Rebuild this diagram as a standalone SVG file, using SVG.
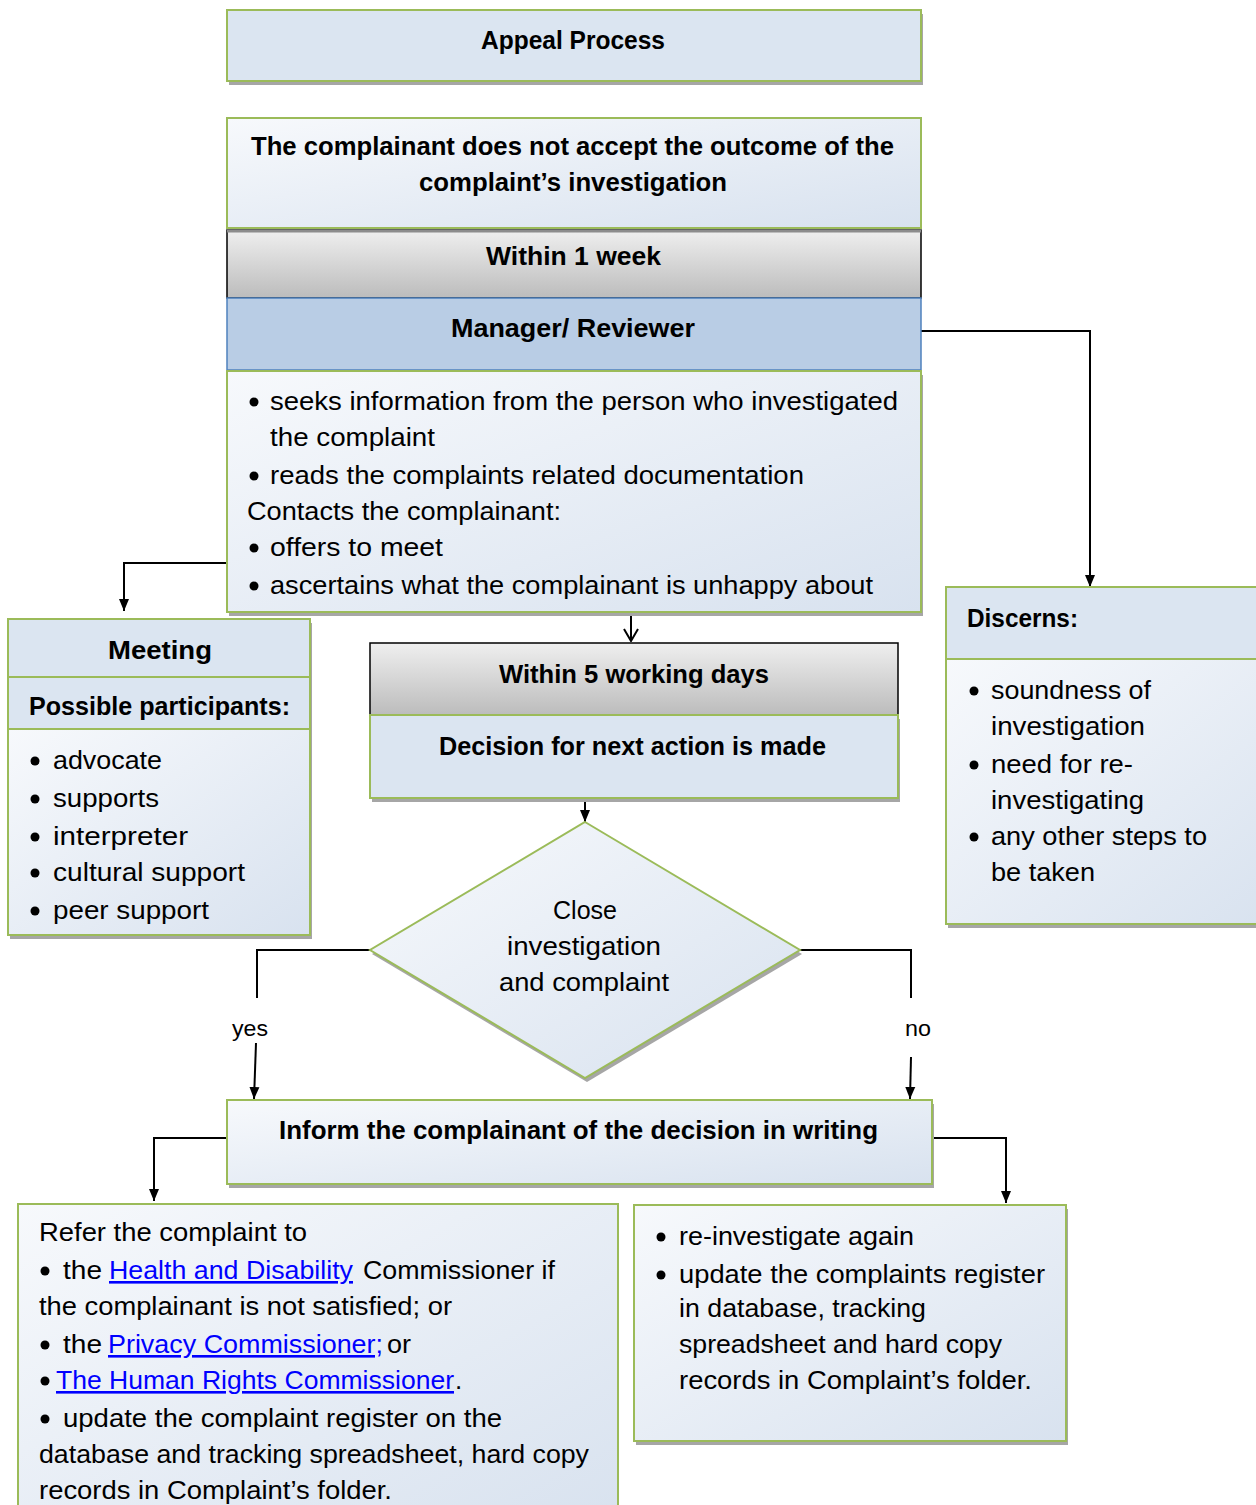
<svg xmlns="http://www.w3.org/2000/svg" width="1256" height="1505" viewBox="0 0 1256 1505">
  <style>
    .t { font-family: "Liberation Sans", Arial, sans-serif; font-size: 26px; fill: #000; }
    .b { font-weight: bold; }
    .bu { fill: #000; }
    .lk { fill: #0000ff; text-decoration: underline; }
    .lbl { font-family: "Liberation Sans", Arial, sans-serif; font-size: 22px; fill: #000; }
    .box { stroke: #9bbb59; stroke-width: 2; }
    .plain { fill: #dbe5f1; }
    .soft { fill: url(#soft); }
    .grey { fill: url(#grey); stroke: #000; stroke-width: 1.5; }
    .sh { fill: #a6a6a6; }
    .cn { fill: none; stroke: #000; stroke-width: 2; }
  </style>
  <defs>
    <linearGradient id="soft" x1="0" y1="0" x2="1" y2="1">
      <stop offset="0" stop-color="#f7f9fc"/>
      <stop offset="1" stop-color="#d8e2ef"/>
    </linearGradient>
    <linearGradient id="grey" x1="0" y1="0" x2="0" y2="1">
      <stop offset="0" stop-color="#efefef"/>
      <stop offset="1" stop-color="#bcbcbc"/>
    </linearGradient>
    <marker id="arrow" markerUnits="userSpaceOnUse" markerWidth="12" markerHeight="12" refX="12" refY="6" orient="auto">
      <path d="M0,1 L12,6 L0,11 z" fill="#000"/>
    </marker>
    <marker id="vee" markerUnits="userSpaceOnUse" markerWidth="14" markerHeight="16" refX="13" refY="8" orient="auto">
      <path d="M1,1 L13,8 L1,15" fill="none" stroke="#000" stroke-width="2"/>
    </marker>
  </defs>

  <!-- connectors -->
  <g id="connectors">
    <path class="cn" d="M921,331 H1090 V587" marker-end="url(#arrow)"/>
    <path class="cn" d="M227,563 H124 V611" marker-end="url(#arrow)"/>
    <path class="cn" d="M631,613 V641" marker-end="url(#vee)"/>
    <path class="cn" d="M585,799 V822" marker-end="url(#arrow)"/>
    <path class="cn" d="M370,950 H257 V998"/>
    <path class="cn" d="M256,1043 L254,1099" marker-end="url(#arrow)"/>
    <path class="cn" d="M800,950 H911 V998"/>
    <path class="cn" d="M911,1057 L910,1099" marker-end="url(#arrow)"/>
    <path class="cn" d="M227,1138 H154 V1201" marker-end="url(#arrow)"/>
    <path class="cn" d="M932,1138 H1006 V1203" marker-end="url(#arrow)"/>
    <text class="lbl" x="232" y="1036" textLength="36" lengthAdjust="spacingAndGlyphs">yes</text>
    <text class="lbl" x="905" y="1036" textLength="26" lengthAdjust="spacingAndGlyphs">no</text>
  </g>

  <!-- title -->
  <g id="title">
    <rect class="sh" x="229" y="14" width="694" height="71"/>
    <rect class="box plain" x="227" y="10" width="694" height="71"/>
    <text class="t b" x="481" y="49" textLength="184" lengthAdjust="spacingAndGlyphs">Appeal Process</text>
  </g>

  <!-- trigger -->
  <g id="trigger">
    <rect class="box soft" x="227" y="118" width="694" height="110"/>
    <text class="t b" x="251" y="155" textLength="643" lengthAdjust="spacingAndGlyphs">The complainant does not accept the outcome of the</text>
    <text class="t b" x="419" y="191" textLength="308" lengthAdjust="spacingAndGlyphs">complaint’s investigation</text>
  </g>

  <!-- first deadline -->
  <g id="week">
    <rect class="grey" x="227" y="230" width="694" height="68"/>
    <line x1="227" y1="231" x2="921" y2="231" stroke="#8c8c8c" stroke-width="3"/>
    <text class="t b" x="486" y="265" textLength="175" lengthAdjust="spacingAndGlyphs">Within 1 week</text>
  </g>

  <!-- reviewer -->
  <g id="reviewer">
    <rect x="227" y="298" width="694" height="72" fill="#b9cde5" stroke="#4f81bd" stroke-width="1.5"/>
    <text class="t b" x="451" y="337" textLength="244" lengthAdjust="spacingAndGlyphs">Manager/ Reviewer</text>
  </g>

  <!-- reviewer tasks -->
  <g id="tasks">
    <rect class="sh" x="229" y="375" width="694" height="241"/>
    <rect class="box soft" x="227" y="371" width="694" height="241"/>
    <circle class="bu" cx="254" cy="402" r="4.5"/>
    <text class="t" x="270" y="410" textLength="628" lengthAdjust="spacingAndGlyphs">seeks information from the person who investigated</text>
    <text class="t" x="270" y="446" textLength="165" lengthAdjust="spacingAndGlyphs">the complaint</text>
    <circle class="bu" cx="254" cy="476" r="4.5"/>
    <text class="t" x="270" y="484" textLength="534" lengthAdjust="spacingAndGlyphs">reads the complaints related documentation</text>
    <text class="t" x="247" y="520" textLength="314" lengthAdjust="spacingAndGlyphs">Contacts the complainant:</text>
    <circle class="bu" cx="254" cy="548" r="4.5"/>
    <text class="t" x="270" y="556" textLength="173" lengthAdjust="spacingAndGlyphs">offers to meet</text>
    <circle class="bu" cx="254" cy="586" r="4.5"/>
    <text class="t" x="270" y="594" textLength="603" lengthAdjust="spacingAndGlyphs">ascertains what the complainant is unhappy about</text>
  </g>

  <!-- meeting -->
  <g id="meeting">
    <rect class="sh" x="10" y="623" width="302" height="316"/>
    <rect class="box plain" x="8" y="619" width="302" height="58"/>
    <rect class="box plain" x="8" y="677" width="302" height="52"/>
    <rect class="box soft" x="8" y="729" width="302" height="206"/>
    <text class="t b" x="108" y="659" textLength="104" lengthAdjust="spacingAndGlyphs">Meeting</text>
    <text class="t b" x="29" y="715" textLength="261" lengthAdjust="spacingAndGlyphs">Possible participants:</text>
    <circle class="bu" cx="35" cy="761" r="4.5"/>
    <text class="t" x="53" y="769" textLength="109" lengthAdjust="spacingAndGlyphs">advocate</text>
    <circle class="bu" cx="35" cy="799" r="4.5"/>
    <text class="t" x="53" y="807" textLength="106" lengthAdjust="spacingAndGlyphs">supports</text>
    <circle class="bu" cx="35" cy="837" r="4.5"/>
    <text class="t" x="53" y="845" textLength="135" lengthAdjust="spacingAndGlyphs">interpreter</text>
    <circle class="bu" cx="35" cy="873" r="4.5"/>
    <text class="t" x="53" y="881" textLength="192" lengthAdjust="spacingAndGlyphs">cultural support</text>
    <circle class="bu" cx="35" cy="911" r="4.5"/>
    <text class="t" x="53" y="919" textLength="156" lengthAdjust="spacingAndGlyphs">peer support</text>
  </g>

  <!-- second deadline and decision -->
  <g id="days">
    <rect class="grey" x="370" y="643" width="528" height="72"/>
    <text class="t b" x="499" y="683" textLength="270" lengthAdjust="spacingAndGlyphs">Within 5 working days</text>
  </g>
  <g id="decision">
    <rect class="sh" x="372" y="719" width="528" height="83"/>
    <rect class="box plain" x="370" y="715" width="528" height="83"/>
    <text class="t b" x="439" y="755" textLength="387" lengthAdjust="spacingAndGlyphs">Decision for next action is made</text>
  </g>

  <!-- close question -->
  <g id="close">
    <polygon class="sh" points="587,826 802,954 587,1082 372,954"/>
    <polygon class="box soft" points="585,822 800,950 585,1078 370,950"/>
    <text class="t" x="553" y="919" textLength="64" lengthAdjust="spacingAndGlyphs">Close</text>
    <text class="t" x="507" y="955" textLength="154" lengthAdjust="spacingAndGlyphs">investigation</text>
    <text class="t" x="499" y="991" textLength="170" lengthAdjust="spacingAndGlyphs">and complaint</text>
  </g>

  <!-- discerns -->
  <g id="discerns">
    <rect class="sh" x="948" y="591" width="330" height="337"/>
    <rect class="box plain" x="946" y="587" width="330" height="72"/>
    <rect class="box soft" x="946" y="659" width="330" height="265"/>
    <text class="t b" x="967" y="627" textLength="111" lengthAdjust="spacingAndGlyphs">Discerns:</text>
    <circle class="bu" cx="974" cy="691" r="4.5"/>
    <text class="t" x="991" y="699" textLength="160" lengthAdjust="spacingAndGlyphs">soundness of</text>
    <text class="t" x="991" y="735" textLength="154" lengthAdjust="spacingAndGlyphs">investigation</text>
    <circle class="bu" cx="974" cy="765" r="4.5"/>
    <text class="t" x="991" y="773" textLength="142" lengthAdjust="spacingAndGlyphs">need for re-</text>
    <text class="t" x="991" y="809" textLength="153" lengthAdjust="spacingAndGlyphs">investigating</text>
    <circle class="bu" cx="974" cy="837" r="4.5"/>
    <text class="t" x="991" y="845" textLength="216" lengthAdjust="spacingAndGlyphs">any other steps to</text>
    <text class="t" x="991" y="881" textLength="104" lengthAdjust="spacingAndGlyphs">be taken</text>
  </g>

  <!-- inform -->
  <g id="inform">
    <rect class="sh" x="229" y="1104" width="705" height="84"/>
    <rect class="box soft" x="227" y="1100" width="705" height="84"/>
    <text class="t b" x="279" y="1139" textLength="599" lengthAdjust="spacingAndGlyphs">Inform the complainant of the decision in writing</text>
  </g>

  <!-- refer -->
  <g id="refer">
    <rect class="box soft" x="18" y="1204" width="600" height="320"/>
    <text class="t" x="39" y="1241" textLength="268" lengthAdjust="spacingAndGlyphs">Refer the complaint to</text>
    <circle class="bu" cx="45" cy="1271" r="4.5"/>
    <text class="t" x="63" y="1279" textLength="39" lengthAdjust="spacingAndGlyphs">the</text>
    <text class="t lk" x="109" y="1279" textLength="244" lengthAdjust="spacingAndGlyphs">Health and Disability</text>
    <text class="t" x="363" y="1279" textLength="192" lengthAdjust="spacingAndGlyphs">Commissioner if</text>
    <text class="t" x="39" y="1315" textLength="413" lengthAdjust="spacingAndGlyphs">the complainant is not satisfied; or</text>
    <circle class="bu" cx="45" cy="1345" r="4.5"/>
    <text class="t" x="63" y="1353" textLength="39" lengthAdjust="spacingAndGlyphs">the</text>
    <text class="t lk" x="108" y="1353" textLength="275" lengthAdjust="spacingAndGlyphs">Privacy Commissioner;</text>
    <text class="t" x="387" y="1353" textLength="24" lengthAdjust="spacingAndGlyphs">or</text>
    <circle class="bu" cx="45" cy="1381" r="4.5"/>
    <text class="t lk" x="56" y="1389" textLength="398" lengthAdjust="spacingAndGlyphs">The Human Rights Commissioner</text>
    <text class="t" x="455" y="1389">.</text>
    <circle class="bu" cx="45" cy="1419" r="4.5"/>
    <text class="t" x="63" y="1427" textLength="439" lengthAdjust="spacingAndGlyphs">update the complaint register on the</text>
    <text class="t" x="39" y="1463" textLength="550" lengthAdjust="spacingAndGlyphs">database and tracking spreadsheet, hard copy</text>
    <text class="t" x="39" y="1499" textLength="353" lengthAdjust="spacingAndGlyphs">records in Complaint’s folder.</text>
  </g>

  <!-- reinvestigate -->
  <g id="reinvestigate">
    <rect class="sh" x="636" y="1209" width="432" height="236"/>
    <rect class="box soft" x="634" y="1205" width="432" height="236"/>
    <circle class="bu" cx="661" cy="1237" r="4.5"/>
    <text class="t" x="679" y="1245" textLength="235" lengthAdjust="spacingAndGlyphs">re-investigate again</text>
    <circle class="bu" cx="661" cy="1275" r="4.5"/>
    <text class="t" x="679" y="1283" textLength="366" lengthAdjust="spacingAndGlyphs">update the complaints register</text>
    <text class="t" x="679" y="1317" textLength="247" lengthAdjust="spacingAndGlyphs">in database, tracking</text>
    <text class="t" x="679" y="1353" textLength="323" lengthAdjust="spacingAndGlyphs">spreadsheet and hard copy</text>
    <text class="t" x="679" y="1389" textLength="353" lengthAdjust="spacingAndGlyphs">records in Complaint’s folder.</text>
  </g>
</svg>
